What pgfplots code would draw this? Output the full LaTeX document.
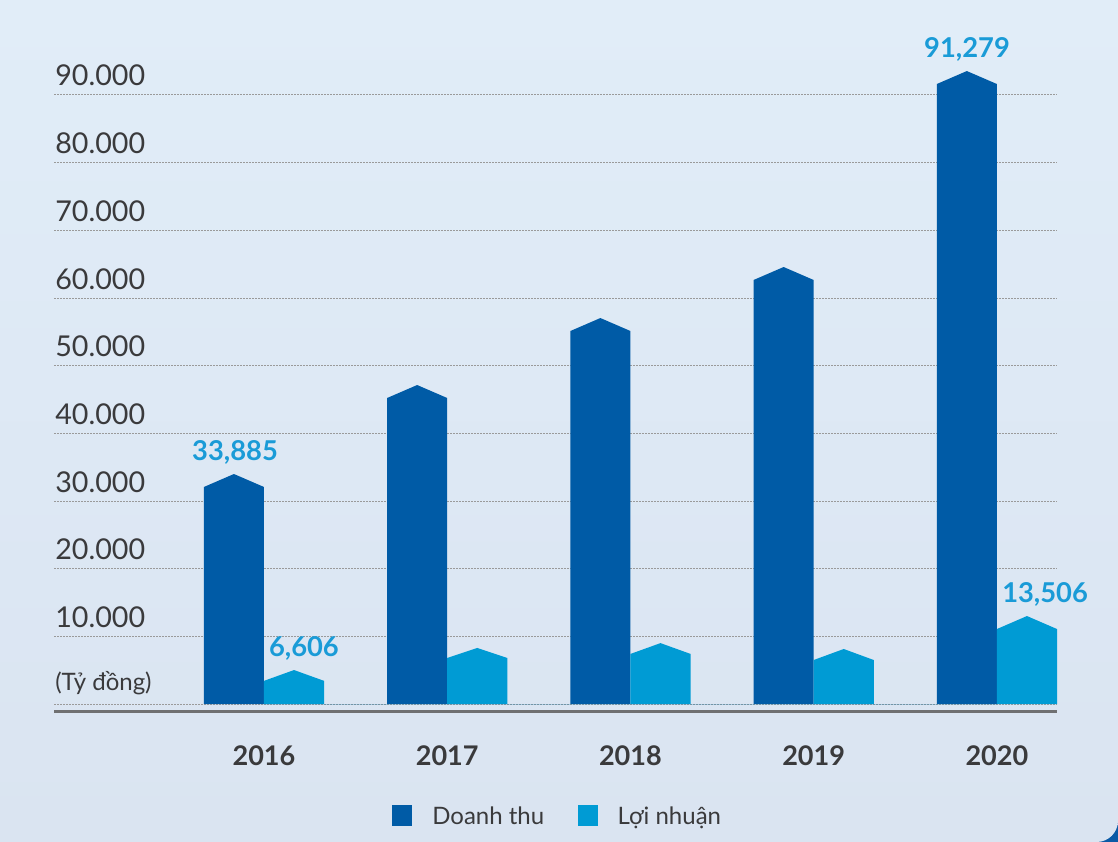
\documentclass[border=0pt]{standalone}
\usepackage{pgfplots}
\pgfplotsset{compat=1.18}
\usepackage{fontspec}
\setmainfont{Lato}
\definecolor{darkbar}{HTML}{005BA6}
\definecolor{lightbar}{HTML}{009BD4}
\definecolor{vallab}{HTML}{1A9BD7}
\definecolor{txt}{HTML}{3A3A3C}
\definecolor{bgtop}{HTML}{E1EDF8}
\definecolor{bgbot}{HTML}{DAE4F1}
\definecolor{frame}{HTML}{0A5AA6}
\definecolor{axisgrey}{HTML}{6F7072}
\definecolor{gridgrey}{HTML}{9A9A9A}
\begin{document}
\begin{tikzpicture}
\fill[frame] (0,0) rectangle (838.5pt,631.5pt);
\shade[top color=bgtop, bottom color=bgbot] (0pt,0pt) -- (0pt,631.5pt) -- (838.5pt,631.5pt) [rounded corners=16pt] -- (838.5pt,0pt) -- (4pt,0pt) [sharp corners] -- cycle;
\begin{axis}[
  at={(40.5pt,97.5pt)}, anchor=south west,
  scale only axis, width=752.25pt, height=493.2pt,
  xmin=-1.146, xmax=4.328, ymin=-1180, ymax=96000,
  clip=false,
  scaled y ticks=false,
  axis x line*=bottom, axis y line*=left,
  x axis line style={line width=2.25pt, color=axisgrey, -},
  y axis line style={draw=none},
  xtick={0,1,2,3,4}, xticklabels={2016,2017,2018,2019,2020},
  ytick={0,10000,20000,30000,40000,50000,60000,70000,80000,90000},
  yticklabels={{\fontsize{18}{20}\selectfont\raisebox{3.4pt}{(Tỷ đồng)}},10.000,20.000,30.000,40.000,50.000,60.000,70.000,80.000,90.000},
  major tick length=0pt,
  ymajorgrids,
  grid style={color=gridgrey, line width=0.75pt, dash pattern=on 1.5pt off 0.75pt},
  xticklabel style={font=\fontsize{20.3}{24}\selectfont\bfseries, text=txt, anchor=base, inner sep=0pt, yshift=-40.5pt},
  yticklabel style={font=\fontsize{21.5}{24}\selectfont, text=txt, anchor=base west, inner sep=0pt, xshift=0.75pt, yshift=6.75pt},
  legend style={at={(0.337,-0.158)}, anchor=west, draw=none, fill=none, inner sep=0pt,
    font=\fontsize{18}{20}\selectfont, text=txt,
    /tikz/every odd column/.append style={column sep=15pt},
    /tikz/every even column/.append style={column sep=25pt},
    nodes={inner sep=0pt, anchor=base west}},
  legend columns=2,
  legend image code/.code={\fill[#1] (0pt,-0.75pt) rectangle (15pt,15pt);},
]
\addlegendimage{fill=darkbar, draw=none}
\addlegendentry{Doanh thu}
\addlegendimage{fill=lightbar, draw=none}
\addlegendentry{Lợi nhuận}
% Doanh thu (dark bars, pointed tops)
\addplot[fill=darkbar, draw=none, forget plot] coordinates {
 (-0.328,0) (-0.328,32070) (-0.164,33990) (0,32070) (0,0)
 (0.672,0) (0.672,45220) (0.836,47140) (1,45220) (1,0)
 (1.672,0) (1.672,55120) (1.836,57040) (2,55120) (2,0)
 (2.672,0) (2.672,62660) (2.836,64580) (3,62660) (3,0)
 (3.672,0) (3.672,91620) (3.836,93540) (4,91620) (4,0)
};
% Loi nhuan (light bars)
\addplot[fill=lightbar, draw=none, forget plot] coordinates {
 (0,0) (0,3420) (0.164,5020) (0.328,3420) (0.328,0)
 (1,0) (1,6800) (1.164,8280) (1.328,6800) (1.328,0)
 (2,0) (2,7400) (2.164,9000) (2.328,7400) (2.328,0)
 (3,0) (3,6500) (3.164,8130) (3.328,6500) (3.328,0)
 (4,0) (4,11080) (4.164,13000) (4.328,11080) (4.328,0)
};
% value labels
\addplot[draw=none, mark=none, forget plot, nodes near coords, point meta=explicit symbolic,
  nodes near coords style={anchor=base, yshift=10.5pt, inner sep=0pt, font=\fontsize{20.5}{24}\selectfont\bfseries, text=vallab}]
 coordinates {(-0.158,33990)[33,885] (0.218,5020)[6,606] (3.837,93540)[91,279] (4.263,13000)[13,506]};
\end{axis}
\end{tikzpicture}
\end{document}
